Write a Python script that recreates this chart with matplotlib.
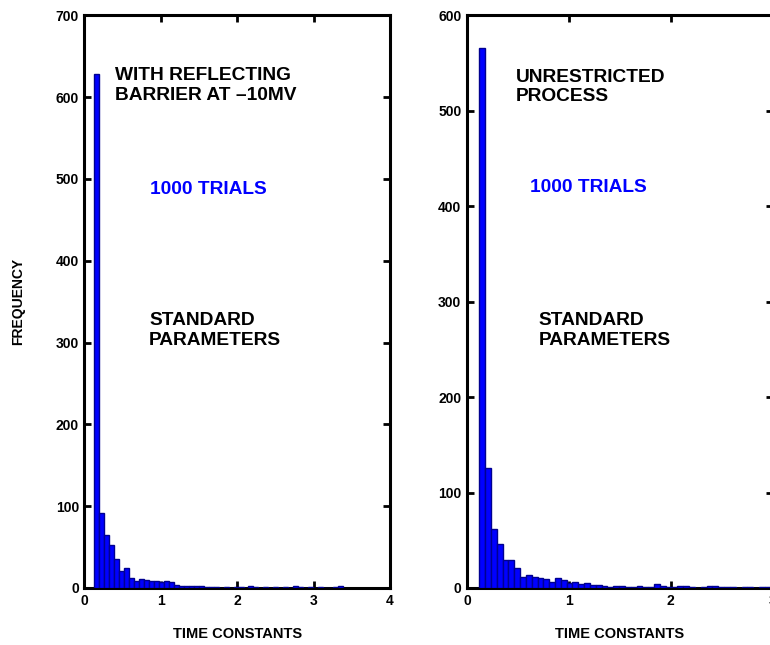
import numpy as np
import matplotlib
matplotlib.use("Agg")
import matplotlib.pyplot as plt

plt.rcParams['font.family'] = ['Liberation Sans', 'DejaVu Sans']
plt.rcParams['font.weight'] = 'bold'

# histogram of passage times, 50 bins each (counts)
left_range = (0.12, 3.39)
left_counts = [628, 92, 65, 52, 36, 21, 24, 12, 9, 11,
               10, 8, 9, 7, 9, 7, 4, 3, 2, 3,
               3, 2, 1, 1, 1, 0, 1, 0, 1, 1,
               0, 2, 1, 0, 1, 0, 1, 0, 1, 0,
               2, 1, 0, 1, 0, 1, 0, 0, 1, 2]

right_range = (0.12, 2.98)
right_counts = [566, 126, 62, 46, 29, 29, 21, 11, 14, 11,
                10, 9, 6, 10, 8, 5, 6, 4, 5, 3,
                3, 2, 1, 2, 2, 1, 1, 2, 1, 1,
                4, 2, 1, 1, 2, 2, 1, 0, 1, 2,
                2, 1, 1, 1, 0, 1, 1, 0, 1, 1]

left_ticks_y = [0, 100, 200, 300, 400, 500, 600, 700]
right_ticks_y = [0, 100, 200, 300, 400, 500, 600]

BLUE = '#0000ff'


def hist_panel(ax, rng, counts, xlim, ylim, xticks, yticks):
    edges = np.linspace(rng[0], rng[1], len(counts) + 1)
    centers = (edges[:-1] + edges[1:]) / 2
    # bars sit on top of the bottom spine, like in the original
    ax.bar(centers, counts, width=edges[1] - edges[0], color=BLUE,
           edgecolor='#000090', linewidth=1.0, zorder=3)
    ax.set_xlim(*xlim)
    ax.set_ylim(*ylim)
    ax.set_xticks(xticks)
    ax.set_yticks(yticks)
    ax.tick_params(direction='in', length=5, width=2, top=True, right=True,
                   labelsize=10, pad=4)
    for s in ax.spines.values():
        s.set_linewidth(2.2)
    ax.set_xlabel('TIME CONSTANTS', fontsize=10.5, fontweight='bold', labelpad=14)


fig = plt.figure(figsize=(7.7, 6.45), dpi=100)
ax1 = fig.add_axes([0.1097, 0.0884, 0.3968, 0.888])
ax2 = fig.add_axes([0.6065, 0.0884, 0.397, 0.888])

hist_panel(ax1, left_range, left_counts, (0, 4), (0, 700), [0, 1, 2, 3, 4], left_ticks_y)
hist_panel(ax2, right_range, right_counts, (0, 3), (0, 600), [0, 1, 2, 3], right_ticks_y)

ax1.set_ylabel('FREQUENCY', fontsize=10, fontweight='bold', labelpad=22)

fs = 13.8
ax1.text(0.4, 614, 'WITH REFLECTING\nBARRIER AT \u201310MV', fontsize=fs,
         fontweight='bold', va='center', ha='left', linespacing=1.2)
ax1.text(0.86, 487, '1000 TRIALS', fontsize=fs, fontweight='bold',
         color=BLUE, va='center', ha='left')
ax1.text(0.845, 315, 'STANDARD\nPARAMETERS', fontsize=fs, fontweight='bold',
         va='center', ha='left', linespacing=1.2)

ax2.text(0.48, 525, 'UNRESTRICTED\nPROCESS', fontsize=fs, fontweight='bold',
         va='center', ha='left', linespacing=1.2)
ax2.text(0.62, 420, '1000 TRIALS', fontsize=fs, fontweight='bold',
         color=BLUE, va='center', ha='left')
ax2.text(0.70, 270, 'STANDARD\nPARAMETERS', fontsize=fs, fontweight='bold',
         va='center', ha='left', linespacing=1.2)

fig.savefig('out.png', dpi=100)
